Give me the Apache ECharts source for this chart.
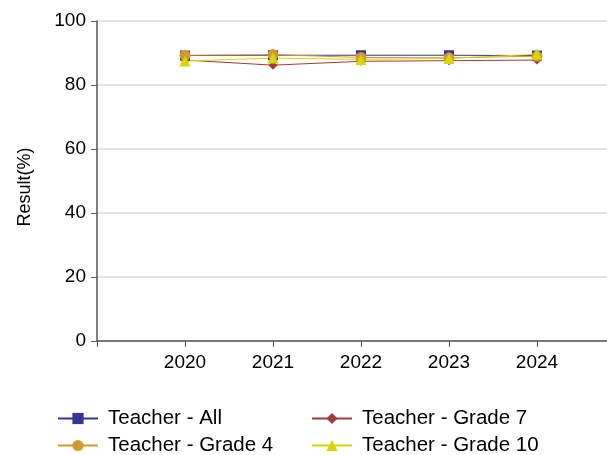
<!DOCTYPE html>
<html><head><meta charset="utf-8">
<script src="https://cdn.jsdelivr.net/npm/echarts@6/dist/echarts.min.js"></script>
<style>html,body{margin:0;padding:0;background:#fff}#c{width:607px;height:455px}</style>
</head><body><div id="c"></div>
<script>
const years = [2020, 2021, 2022, 2023, 2024];
const yTicks = [0, 20, 40, 60, 80, 100];
const seriesNames = ['Teacher - All', 'Teacher - Grade 7', 'Teacher - Grade 4', 'Teacher - Grade 10'];
const teacherAll = [89.2, 89.3, 89.3, 89.3, 89.2];
const teacherGrade7 = [87.8, 86.2, 87.4, 87.6, 87.8];
const teacherGrade4 = [89.3, 89.5, 88.6, 88.5, 89.0];
const teacherGrade10 = [87.5, 88.4, 88.0, 88.3, 89.6];

const FONT = 'Liberation Sans, Arial, sans-serif';
const pairs = vals => years.map((y, i) => [y, vals[i]]);
const mk = (name, vals, color, symbol, size) => ({
  name, type: 'line', data: pairs(vals), symbol, symbolSize: size,
  lineStyle: { color, width: 1 }, itemStyle: { color }, emphasis: { disabled: true },
  animation: false
});
const legendCommon = {
  orient: 'vertical', top: 408, height: 80, padding: 0,
  itemWidth: 40, itemHeight: 14, itemGap: 6,
  textStyle: { color: '#000', fontSize: 20.5, fontFamily: FONT, padding: [0, 0, 0, 5] }
};

const chart = echarts.init(document.getElementById('c'), null, { renderer: 'canvas' });
chart.setOption({
  animation: false,
  textStyle: { fontFamily: FONT },
  grid: { left: 97, top: 21, right: -3, bottom: 114, containLabel: false, outerBoundsMode: 'none' },
  xAxis: {
    type: 'value', min: 2019, max: 2024.83, interval: 1,
    axisLine: { show: true, lineStyle: { color: '#555', width: 1.5 } },
    axisTick: { show: true, length: 6, lineStyle: { color: '#555' } },
    splitLine: { show: false },
    axisLabel: {
      color: '#000', fontSize: 19, fontFamily: FONT, margin: 12,
      formatter: v => (years.indexOf(v) >= 0 ? String(v) : '')
    }
  },
  yAxis: {
    type: 'value', min: yTicks[0], max: yTicks[yTicks.length - 1], interval: 20,
    name: 'Result(%)', nameLocation: 'middle', nameGap: 63,
    nameTextStyle: { color: '#000', fontSize: 18, fontFamily: FONT, padding: [0, 12, 0, 0] },
    axisLine: { show: true, lineStyle: { color: '#555', width: 1.5 } },
    axisTick: { show: true, length: 6, lineStyle: { color: '#555' } },
    splitLine: { show: true, lineStyle: { color: '#dcdcdc', width: 1.5 } },
    axisLabel: { color: '#000', fontSize: 19, fontFamily: FONT, margin: 11 }
  },
  legend: [
    Object.assign({ data: [seriesNames[0], seriesNames[2]], left: 57 }, legendCommon),
    Object.assign({ data: [seriesNames[1], seriesNames[3]], left: 311 }, legendCommon)
  ],
  series: [
    mk(seriesNames[0], teacherAll, '#333399', 'rect', 10),
    mk(seriesNames[1], teacherGrade7, '#a33a3a', 'diamond', 9),
    mk(seriesNames[2], teacherGrade4, '#d4982e', 'circle', 11),
    mk(seriesNames[3], teacherGrade10, '#d6d600', 'triangle', 11)
  ]
});
</script></body></html>
